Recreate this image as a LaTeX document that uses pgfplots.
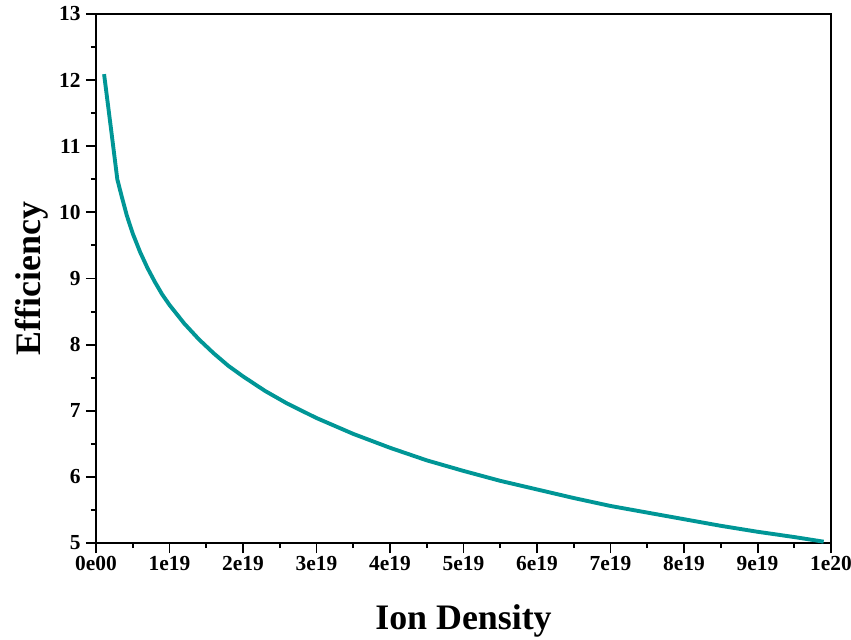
\documentclass[border=0pt]{standalone}
\usepackage{pgfplots}
\pgfplotsset{compat=1.18}
\usepackage{fontspec}
\setmainfont{Liberation Serif}
\definecolor{curvecol}{RGB}{0,150,150}
\begin{document}
\begin{tikzpicture}
\begin{axis}[
  scale only axis,
  width=735bp, height=529bp,
  xmin=0, xmax=10, ymin=5, ymax=13,
  xtick={0,1,...,10},
  xticklabels={0e00,1e19,2e19,3e19,4e19,5e19,6e19,7e19,8e19,9e19,1e20},
  ytick={5,6,...,13},
  minor x tick num=1, minor y tick num=1,
  xtick pos=bottom, ytick pos=left,
  tick align=outside,
  major tick length=10bp, minor tick length=5bp,
  every tick/.style={black, line width=2pt},
  axis line style={line width=2pt},
  /pgf/number format/assume math mode=true,
  tick label style={font=\bfseries\fontsize{21.5}{21.5}\selectfont},
  yticklabel style={xshift=-2bp},
  xlabel={Ion Density}, ylabel={Efficiency},
  label style={font=\bfseries\fontsize{36}{36}\selectfont},
  xlabel style={at={([yshift=-86bp]axis description cs:0.5,0)}, anchor=base},
  ylabel style={at={([xshift=-55bp]axis description cs:0,0.5)}, anchor=base, rotate=0},
]
\addplot[curvecol, line width=3.9pt, line join=round] coordinates {
(0.11,12.09) (0.20,11.30) (0.29,10.50) (0.35,10.24) (0.42,9.95)
(0.50,9.68) (0.60,9.40) (0.70,9.16) (0.80,8.95) (0.90,8.76)
(1.00,8.60) (1.20,8.32) (1.40,8.08) (1.60,7.87) (1.80,7.68)
(2.00,7.52) (2.30,7.30) (2.60,7.11) (3.00,6.89) (3.50,6.65)
(4.00,6.44) (4.50,6.25) (5.00,6.09) (5.50,5.94) (6.00,5.81)
(6.50,5.68) (7.00,5.56) (7.50,5.46) (8.00,5.36) (8.50,5.26)
(9.00,5.17) (9.50,5.09) (9.90,5.02)
};
\end{axis}
\path (current axis.south west) ++(-96bp,-97bp) coordinate (bl);
\path (current axis.north east) ++(20bp,14bp) coordinate (tr);
\pgfresetboundingbox
\path[use as bounding box] (bl) rectangle (tr);
\end{tikzpicture}
\end{document}
